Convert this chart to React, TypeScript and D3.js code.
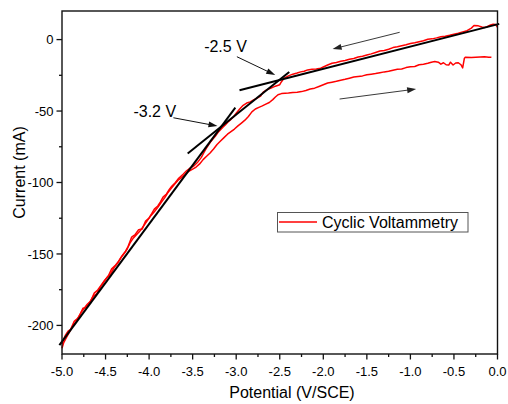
import React from "react";
import * as d3 from "d3";

// Cyclic voltammetry: cathodic sweep (0 V -> -5 V), potential V vs SCE, current mA
const sweepDownV = [0.0, -0.02, -0.05, -0.08, -0.12, -0.15, -0.18, -0.22, -0.27, -0.3, -0.35, -0.4, -0.45, -0.5, -0.55, -0.6, -0.65, -0.7, -0.75, -0.8, -0.85, -0.9, -0.95, -1.0, -1.05, -1.1, -1.15, -1.2, -1.25, -1.3, -1.35, -1.4, -1.45, -1.5, -1.55, -1.6, -1.65, -1.7, -1.75, -1.8, -1.85, -1.9, -1.95, -2.0, -2.03, -2.08, -2.13, -2.18, -2.22, -2.26, -2.3, -2.35, -2.4, -2.45, -2.48, -2.5, -2.55, -2.6, -2.65, -2.69, -2.72, -2.76, -2.8, -2.84, -2.88, -2.92, -2.96, -3.0, -3.03, -3.06, -3.09, -3.12, -3.15, -3.18, -3.21, -3.24, -3.27, -3.3, -3.34, -3.37, -3.4, -3.44, -3.49, -3.53, -3.57, -3.61, -3.66, -3.7, -3.74, -3.77, -3.8, -3.84, -3.87, -3.9, -3.94, -3.97, -4.0, -4.04, -4.08, -4.12, -4.16, -4.2, -4.24, -4.27, -4.31, -4.35, -4.39, -4.43, -4.47, -4.51, -4.55, -4.59, -4.63, -4.67, -4.71, -4.74, -4.78, -4.82, -4.86, -4.9, -4.93, -4.96, -4.98, -5.0];
const sweepDownI = [8.5, 10.5, 10.8, 10.2, 9.0, 8.4, 8.8, 9.6, 9.8, 8.0, 6.2, 5.4, 4.5, 3.8, 3.0, 2.4, 2.0, 1.2, 0.5, 0.2, -0.8, -1.5, -2.2, -2.8, -3.6, -4.3, -5.0, -5.6, -6.8, -7.6, -8.0, -9.0, -10.0, -10.8, -11.6, -12.2, -13.2, -13.8, -14.6, -15.2, -16.0, -16.6, -17.8, -19.2, -20.0, -20.6, -20.8, -21.2, -22.2, -22.6, -23.4, -24.2, -25.4, -27.0, -29.5, -31.6, -32.6, -34.0, -35.2, -36.8, -39.6, -41.0, -42.2, -43.6, -44.4, -46.0, -48.6, -51.6, -54.0, -55.8, -57.4, -59.4, -61.2, -63.0, -65.0, -67.6, -69.8, -72.0, -75.8, -79.0, -82.4, -85.6, -88.6, -90.0, -91.8, -94.2, -97.0, -100.2, -102.6, -105.0, -108.0, -110.2, -113.6, -116.4, -118.6, -121.8, -124.8, -127.0, -132.6, -133.0, -136.4, -138.2, -144.6, -148.0, -151.2, -155.0, -158.2, -160.4, -165.6, -168.4, -171.8, -175.2, -177.4, -183.0, -185.2, -187.6, -190.8, -195.0, -197.2, -202.8, -204.0, -206.8, -209.6, -213.0];

// Anodic return sweep (-5 V -> 0 V)
const sweepUpV = [-5.0, -4.98, -4.95, -4.92, -4.88, -4.84, -4.8, -4.76, -4.72, -4.68, -4.64, -4.6, -4.56, -4.52, -4.48, -4.44, -4.4, -4.36, -4.32, -4.28, -4.25, -4.22, -4.18, -4.14, -4.1, -4.06, -4.02, -3.98, -3.94, -3.9, -3.86, -3.82, -3.79, -3.75, -3.71, -3.67, -3.63, -3.59, -3.55, -3.5, -3.46, -3.42, -3.38, -3.34, -3.3, -3.26, -3.22, -3.18, -3.14, -3.1, -3.06, -3.02, -2.98, -2.94, -2.9, -2.86, -2.82, -2.78, -2.74, -2.7, -2.66, -2.62, -2.58, -2.55, -2.52, -2.48, -2.44, -2.4, -2.35, -2.3, -2.25, -2.2, -2.15, -2.1, -2.05, -2.0, -1.95, -1.9, -1.85, -1.8, -1.75, -1.7, -1.65, -1.6, -1.55, -1.5, -1.45, -1.4, -1.35, -1.3, -1.25, -1.2, -1.15, -1.1, -1.05, -1.0, -0.95, -0.9, -0.85, -0.8, -0.76, -0.72, -0.68, -0.65, -0.62, -0.59, -0.56, -0.54, -0.51, -0.48, -0.45, -0.42, -0.4, -0.38, -0.37, -0.3, -0.25, -0.2, -0.15, -0.1, -0.07];
const sweepUpI = [-216.0, -212.0, -208.6, -205.2, -200.6, -197.6, -193.4, -188.0, -187.4, -183.6, -179.6, -177.8, -173.2, -169.6, -166.2, -163.8, -159.4, -156.4, -152.4, -149.2, -146.4, -142.4, -138.8, -136.2, -133.6, -130.2, -126.6, -123.2, -120.4, -117.4, -113.8, -110.6, -107.6, -104.4, -101.4, -98.6, -96.6, -94.6, -92.4, -90.6, -89.2, -87.0, -84.0, -81.6, -79.4, -76.6, -73.4, -71.0, -68.6, -66.2, -64.4, -62.6, -60.4, -58.4, -56.4, -53.8, -50.6, -48.6, -47.4, -46.4, -45.2, -44.0, -42.0, -40.2, -38.6, -37.8, -37.6, -37.4, -37.0, -36.8, -36.4, -35.6, -34.6, -34.0, -32.8, -31.6, -30.4, -29.8, -29.2, -28.4, -27.8, -27.0, -26.2, -25.8, -25.4, -24.6, -24.2, -23.8, -23.2, -22.6, -22.2, -21.4, -20.8, -20.6, -19.6, -19.0, -18.8, -17.6, -17.2, -16.6, -15.8, -15.4, -15.8, -17.2, -16.2, -17.6, -17.8, -15.8, -17.8, -16.4, -16.2, -17.6, -19.8, -13.0, -12.4, -12.6, -12.4, -12.2, -12.0, -12.3, -12.4];

// Linear fits used to locate the onset potentials: [V0, I0, V1, I1]
const fitSteep = [-5.03, -213.8, -3.01, -47.6];
const fitMiddle = [-3.557, -79.7, -2.391, -22.7];
const fitShallow = [-2.962, -35.5, 0.02, 11.0];
const fitLines = [fitSteep, fitMiddle, fitShallow];

// Onset annotations: label anchor, arrow start, arrow tip (V, mA)
const onsetLabels = ["-3.2 V", "-2.5 V"];
const onsetLabelPos = [[-4.18, -54.4], [-3.368, -8.5]];
const onsetArrows = [[-3.721, -54.7, -3.215, -60.5], [-2.992, -12.0, -2.552, -24.8]];

// Sweep direction arrows: [V0, I0, V1, I1]
const sweepArrows = [[-1.123, 5.1, -1.893, -6.6], [-1.813, -41.6, -0.934, -34.6]];

const xMajorTicks = [-5.0, -4.5, -4.0, -3.5, -3.0, -2.5, -2.0, -1.5, -1.0, -0.5, 0.0];
const xMinorTicks = [-4.75, -4.25, -3.75, -3.25, -2.75, -2.25, -1.75, -1.25, -0.75, -0.25];
const yMajorTicks = [-200, -150, -100, -50, 0];
const yMinorTicks = [-175, -125, -75, -25];

const xTitle = "Potential (V/SCE)";
const yTitle = "Current (mA)";
const legendLabel = "Cyclic Voltammetry";

const W = 508;
const H = 404;
const plot = { left: 62, right: 497.5, top: 11, bottom: 354 };
const FONT = "'Liberation Sans', Arial, Helvetica, sans-serif";

export default function App() {
  const x = d3.scaleLinear().domain([-5, 0]).range([plot.left, plot.right]);
  const y = d3.scaleLinear().domain([-220, 20]).range([plot.bottom, plot.top]);

  const line = d3
    .line<[number, number]>()
    .x((d) => x(d[0]))
    .y((d) => y(d[1]));

  const down: [number, number][] = sweepDownV.map((v, i) => [v, sweepDownI[i]]);
  const up: [number, number][] = sweepUpV.map((v, i) => [v, sweepUpI[i]]);

  const arrowHead = (x0: number, y0: number, x1: number, y1: number, len: number, half: number) => {
    const a = Math.atan2(y1 - y0, x1 - x0);
    const bx = x1 - len * Math.cos(a);
    const by = y1 - len * Math.sin(a);
    const px = -Math.sin(a) * half;
    const py = Math.cos(a) * half;
    return `M${x1},${y1}L${bx + px},${by + py}L${bx - px},${by - py}Z`;
  };

  const drawArrow = (a: number[], key: string, color: string, width: number) => {
    const x0 = x(a[0]);
    const y0 = y(a[1]);
    const x1 = x(a[2]);
    const y1 = y(a[3]);
    const ang = Math.atan2(y1 - y0, x1 - x0);
    const len = 9;
    return (
      <g key={key}>
        <line
          x1={x0}
          y1={y0}
          x2={x1 - (len - 1) * Math.cos(ang)}
          y2={y1 - (len - 1) * Math.sin(ang)}
          stroke={color}
          strokeWidth={width}
        />
        <path d={arrowHead(x0, y0, x1, y1, len, 3)} fill={color} />
      </g>
    );
  };

  return (
    <svg width={W} height={H} style={{ position: "absolute", left: 0, top: 0 }} fontFamily={FONT}>
      <rect x={0} y={0} width={W} height={H} fill="#fff" />

      {/* measured curves */}
      <path d={line(down) || ""} fill="none" stroke="#ff0000" strokeWidth={1.5} strokeLinejoin="round" />
      <path d={line(up) || ""} fill="none" stroke="#ff0000" strokeWidth={1.5} strokeLinejoin="round" />

      {/* tangent fits */}
      {fitLines.map((f, i) => (
        <line key={`fit${i}`} x1={x(f[0])} y1={y(f[1])} x2={x(f[2])} y2={y(f[3])} stroke="#000" strokeWidth={2} />
      ))}

      {/* onset annotations */}
      {onsetLabels.map((t, i) => (
        <text key={`ol${i}`} x={x(onsetLabelPos[i][0])} y={y(onsetLabelPos[i][1])} fontSize={16} fill="#000">
          {t}
        </text>
      ))}
      {onsetArrows.map((a, i) => drawArrow(a, `oa${i}`, "#111", 1))}
      {sweepArrows.map((a, i) => drawArrow(a, `sa${i}`, "#222", 0.9))}

      {/* frame */}
      <rect
        x={plot.left}
        y={plot.top}
        width={plot.right - plot.left}
        height={plot.bottom - plot.top}
        fill="none"
        stroke="#111"
        strokeWidth={1.4}
      />

      {/* x axis */}
      {xMajorTicks.map((t) => (
        <g key={`xt${t}`}>
          <line x1={x(t)} x2={x(t)} y1={plot.bottom} y2={plot.bottom + 5.5} stroke="#111" strokeWidth={1.3} />
          <text x={x(t)} y={plot.bottom + 21.5} fontSize={13} textAnchor="middle" fill="#000">
            {t.toFixed(1)}
          </text>
        </g>
      ))}
      {xMinorTicks.map((t) => (
        <line key={`xm${t}`} x1={x(t)} x2={x(t)} y1={plot.bottom} y2={plot.bottom + 3} stroke="#111" strokeWidth={1.3} />
      ))}

      {/* y axis */}
      {yMajorTicks.map((t) => (
        <g key={`yt${t}`}>
          <line x1={plot.left} x2={plot.left - 5.5} y1={y(t)} y2={y(t)} stroke="#111" strokeWidth={1.3} />
          <text x={plot.left - 8.5} y={y(t)} dy="0.36em" fontSize={13} textAnchor="end" fill="#000">
            {t}
          </text>
        </g>
      ))}
      {yMinorTicks.map((t) => (
        <line key={`ym${t}`} x1={plot.left} x2={plot.left - 3} y1={y(t)} y2={y(t)} stroke="#111" strokeWidth={1.3} />
      ))}

      {/* axis titles */}
      <text x={292} y={398} fontSize={16} textAnchor="middle" fill="#000">
        {xTitle}
      </text>
      <text transform="translate(24.5,172.5) rotate(-90)" fontSize={16} textAnchor="middle" fill="#000">
        {yTitle}
      </text>

      {/* legend */}
      <g>
        <rect x={277.5} y={212.5} width={190.5} height={19.5} fill="#fff" stroke="#555" strokeWidth={1} />
        <line x1={279} x2={317} y1={222} y2={222} stroke="#ff0000" strokeWidth={1.5} />
        <text x={322} y={228} fontSize={16} fill="#000">
          {legendLabel}
        </text>
      </g>
    </svg>
  );
}
